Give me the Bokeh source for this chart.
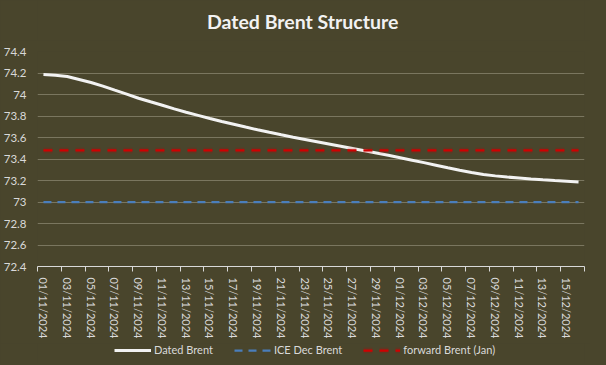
import pandas as pd
from bokeh.plotting import figure
from bokeh.layouts import column
from bokeh.models import (Range1d, FixedTicker, NumeralTickFormatter, Legend, LegendItem,
                          ColumnDataSource, Label)
from bokeh.embed import file_html
from bokeh.resources import INLINE

# ---- data ----
chart_title = "Dated Brent Structure"
dates = list(pd.date_range("2024-11-01", "2024-12-16").strftime("%d/%m/%Y"))
dated_brent = [74.185, 74.180, 74.168, 74.140, 74.112, 74.078, 74.040, 74.003, 73.965, 73.932,
               73.900, 73.866, 73.835, 73.806, 73.777, 73.749, 73.723, 73.697, 73.672, 73.648,
               73.625, 73.603, 73.582, 73.561, 73.540, 73.519, 73.498, 73.477, 73.456, 73.434,
               73.412, 73.389, 73.366, 73.342, 73.318, 73.295, 73.274, 73.256, 73.243, 73.232,
               73.223, 73.214, 73.206, 73.199, 73.193, 73.187]
ice_dec_brent_level = 73.0
forward_brent_jan_level = 73.48
y_ticks = [72.4, 72.6, 72.8, 73.0, 73.2, 73.4, 73.6, 73.8, 74.0, 74.2, 74.4]
series_names = ["Dated Brent", "ICE Dec Brent", "forward Brent (Jan)"]

n = len(dates)
src = ColumnDataSource(dict(x=list(range(n)), db=dated_brent,
                            ice=[ice_dec_brent_level] * n,
                            fw=[forward_brent_jan_level] * n))

BG = "#49452C"
TXT = "#D9D9D9"
FONT = "Lato"
STYLES = [dict(line_color="#F2F2F2", line_width=3),
          dict(line_color="#4A7EBB", line_width=2.25, line_dash="8 6"),
          dict(line_color="#C00000", line_alpha=0.16, line_width=6, line_dash="9 7"),
          dict(line_color="#D00000", line_width=2.25, line_dash="9 7")]
COLS = ["db", "ice", "fw", "fw"]


def strip(h):
    f = figure(width=590, height=h, output_backend="svg", toolbar_location=None,
               x_range=Range1d(0, 590), y_range=Range1d(0, h),
               x_axis_type=None, y_axis_type=None,
               min_border_left=0, min_border_right=0, min_border_top=0, min_border_bottom=0)
    f.background_fill_color = BG
    f.border_fill_color = BG
    f.outline_line_color = None
    f.xgrid.visible = False
    f.ygrid.visible = False
    return f


# title strip
tf = strip(40)
tf.add_layout(Label(x=286, y=19, text=chart_title, text_align="center", text_baseline="middle",
                    text_font=FONT, text_font_style="bold", text_font_size="19.5px",
                    text_color="#F2F2F2"))

# main chart
p = figure(width=590, height=303, output_backend="svg", toolbar_location=None,
           x_range=Range1d(-0.5, n - 0.5), y_range=Range1d(y_ticks[0], y_ticks[-1]),
           min_border_left=30, min_border_right=6, min_border_top=11, min_border_bottom=77)
p.background_fill_color = BG
p.border_fill_color = BG
p.outline_line_color = None

for c, st in zip(COLS, STYLES):
    p.line("x", c, source=src, **st)

# x axis
xa = p.xaxis[0]
xa.ticker = FixedTicker(ticks=list(range(0, n, 2)),
                        minor_ticks=[i - 0.5 for i in range(0, n + 1, 2)])
xa.major_label_overrides = {i: d for i, d in enumerate(dates)}
xa.major_label_orientation = "vertical"
xa.major_tick_line_color = None
xa.major_tick_out = 0
xa.major_tick_in = 0
xa.minor_tick_line_color = TXT
xa.minor_tick_out = 5
xa.minor_tick_in = 0
xa.axis_line_color = TXT
xa.axis_line_width = 1
xa.major_label_standoff = 6
xa.major_label_text_font = FONT
xa.major_label_text_font_size = "11px"
xa.major_label_text_color = TXT

# y axis
ya = p.yaxis[0]
ya.ticker = FixedTicker(ticks=y_ticks)
ya.formatter = NumeralTickFormatter(format="0.[0]")
ya.axis_line_color = None
ya.major_tick_line_color = None
ya.minor_tick_line_color = None
ya.major_tick_out = 0
ya.major_label_standoff = 11
ya.major_label_text_font = FONT
ya.major_label_text_font_size = "11.5px"
ya.major_label_text_color = TXT

p.xgrid.grid_line_color = None
p.ygrid.grid_line_color = "#7A765F"
p.ygrid.grid_line_width = 1

# legend strip below the chart (same data source, lines fall outside its view)
lg = strip(20)
lr = [lg.line("x", c, source=src, **st) for c, st in zip(COLS, STYLES)]
legend = Legend(items=[LegendItem(label=series_names[0], renderers=[lr[0]]),
                       LegendItem(label=series_names[1], renderers=[lr[1]]),
                       LegendItem(label=series_names[2], renderers=[lr[2], lr[3]])],
                orientation="horizontal", location=(77, 7),
                background_fill_alpha=0, border_line_color=None,
                padding=0, margin=0, spacing=21, glyph_width=37, glyph_height=12,
                label_height=12, label_standoff=3,
                label_text_font=FONT, label_text_font_size="11px", label_text_color=TXT)
lg.add_layout(legend, "center")

layout = column(tf, p, lg, spacing=0)
html = file_html(layout, INLINE)
html = html.replace("<head>", "<head><style>html,body{background:%s;}</style>" % BG, 1)
open("out.html", "w").write(html)
